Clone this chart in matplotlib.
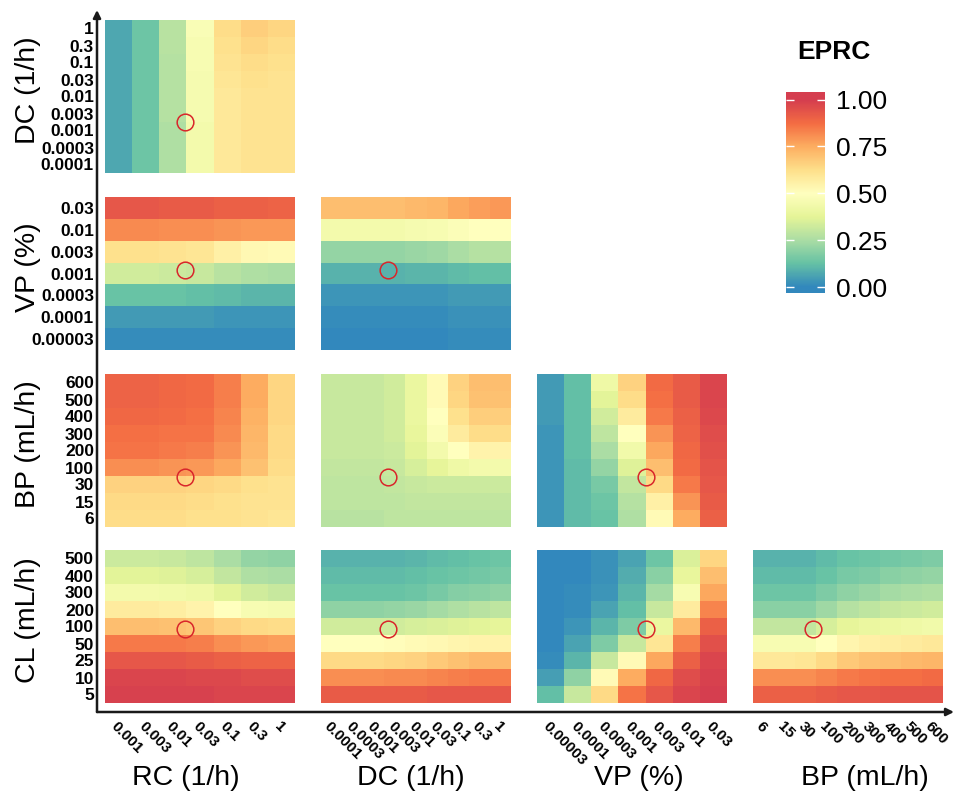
import matplotlib.pyplot as plt
from matplotlib.colors import LinearSegmentedColormap
from matplotlib.patches import FancyArrowPatch
import numpy as np

plt.rcParams['font.family'] = ['Liberation Sans', 'DejaVu Sans']

# parameter levels (bottom/left to top/right)
RC = ['0.001', '0.003', '0.01', '0.03', '0.1', '0.3', '1']
DC = ['0.0001', '0.0003', '0.001', '0.003', '0.01', '0.03', '0.1', '0.3', '1']
VP = ['0.00003', '0.0001', '0.0003', '0.001', '0.003', '0.01', '0.03']
BP = ['6', '15', '30', '100', '200', '300', '400', '500', '600']
CL = ['5', '10', '25', '50', '100', '200', '300', '400', '500']

# EPRC grids: rows listed from the TOP level down, columns left to right
DC_RC = [
    [0.07, 0.14, 0.28, 0.47, 0.63, 0.67, 0.65],
    [0.07, 0.14, 0.28, 0.46, 0.62, 0.65, 0.63],
    [0.07, 0.14, 0.27, 0.46, 0.61, 0.63, 0.62],
    [0.07, 0.14, 0.27, 0.45, 0.60, 0.62, 0.61],
    [0.07, 0.14, 0.27, 0.45, 0.59, 0.61, 0.61],
    [0.07, 0.14, 0.27, 0.45, 0.59, 0.61, 0.61],
    [0.07, 0.14, 0.26, 0.44, 0.59, 0.61, 0.61],
    [0.07, 0.14, 0.26, 0.44, 0.59, 0.61, 0.61],
    [0.07, 0.14, 0.26, 0.44, 0.59, 0.61, 0.61],
]
VP_RC = [
    [0.93, 0.93, 0.92, 0.92, 0.91, 0.91, 0.90],
    [0.82, 0.82, 0.81, 0.81, 0.80, 0.79, 0.79],
    [0.62, 0.62, 0.61, 0.60, 0.56, 0.53, 0.52],
    [0.33, 0.33, 0.32, 0.31, 0.28, 0.26, 0.25],
    [0.13, 0.13, 0.13, 0.12, 0.11, 0.10, 0.10],
    [0.04, 0.04, 0.04, 0.04, 0.03, 0.03, 0.03],
    [0.01, 0.01, 0.01, 0.01, 0.01, 0.01, 0.01],
]
VP_DC = [
    [0.71, 0.71, 0.71, 0.71, 0.72, 0.73, 0.76, 0.78, 0.79],
    [0.44, 0.44, 0.44, 0.44, 0.45, 0.46, 0.48, 0.50, 0.50],
    [0.21, 0.21, 0.21, 0.21, 0.22, 0.23, 0.25, 0.27, 0.27],
    [0.09, 0.09, 0.09, 0.09, 0.10, 0.10, 0.11, 0.12, 0.12],
    [0.03, 0.03, 0.03, 0.03, 0.03, 0.03, 0.04, 0.04, 0.04],
    [0.01, 0.01, 0.01, 0.01, 0.01, 0.01, 0.02, 0.02, 0.02],
    [0.00, 0.00, 0.00, 0.00, 0.00, 0.00, 0.01, 0.01, 0.01],
]
BP_RC = [
    [0.90, 0.90, 0.89, 0.88, 0.84, 0.75, 0.65],
    [0.90, 0.90, 0.89, 0.88, 0.84, 0.75, 0.65],
    [0.89, 0.89, 0.88, 0.87, 0.83, 0.74, 0.65],
    [0.87, 0.87, 0.86, 0.86, 0.82, 0.73, 0.64],
    [0.86, 0.86, 0.85, 0.84, 0.80, 0.72, 0.64],
    [0.81, 0.81, 0.80, 0.79, 0.76, 0.70, 0.63],
    [0.66, 0.66, 0.66, 0.65, 0.64, 0.62, 0.61],
    [0.64, 0.64, 0.64, 0.63, 0.62, 0.61, 0.61],
    [0.63, 0.63, 0.63, 0.62, 0.62, 0.61, 0.60],
]
BP_DC = [
    [0.31, 0.31, 0.31, 0.33, 0.40, 0.52, 0.66, 0.71, 0.71],
    [0.31, 0.31, 0.31, 0.33, 0.40, 0.52, 0.65, 0.70, 0.70],
    [0.31, 0.31, 0.31, 0.33, 0.40, 0.50, 0.62, 0.67, 0.67],
    [0.31, 0.31, 0.31, 0.33, 0.39, 0.48, 0.58, 0.63, 0.63],
    [0.31, 0.31, 0.31, 0.32, 0.37, 0.44, 0.50, 0.55, 0.55],
    [0.30, 0.30, 0.30, 0.31, 0.34, 0.38, 0.42, 0.44, 0.44],
    [0.29, 0.29, 0.29, 0.30, 0.31, 0.32, 0.32, 0.32, 0.32],
    [0.29, 0.29, 0.29, 0.29, 0.30, 0.30, 0.30, 0.30, 0.30],
    [0.28, 0.28, 0.28, 0.29, 0.29, 0.29, 0.29, 0.29, 0.29],
]
BP_VP = [
    [0.04, 0.12, 0.42, 0.66, 0.88, 0.92, 0.98],
    [0.04, 0.12, 0.37, 0.63, 0.87, 0.92, 0.98],
    [0.04, 0.12, 0.33, 0.58, 0.85, 0.91, 0.97],
    [0.03, 0.12, 0.29, 0.50, 0.80, 0.90, 0.96],
    [0.03, 0.12, 0.25, 0.43, 0.76, 0.89, 0.95],
    [0.03, 0.11, 0.21, 0.36, 0.71, 0.88, 0.94],
    [0.03, 0.11, 0.16, 0.30, 0.64, 0.85, 0.93],
    [0.03, 0.11, 0.14, 0.27, 0.56, 0.80, 0.92],
    [0.03, 0.11, 0.13, 0.26, 0.52, 0.75, 0.91],
]
CL_RC = [
    [0.32, 0.32, 0.31, 0.29, 0.25, 0.21, 0.20],
    [0.37, 0.37, 0.36, 0.34, 0.30, 0.26, 0.25],
    [0.44, 0.44, 0.43, 0.42, 0.37, 0.33, 0.31],
    [0.58, 0.58, 0.57, 0.55, 0.50, 0.46, 0.45],
    [0.71, 0.71, 0.70, 0.69, 0.66, 0.64, 0.63],
    [0.85, 0.85, 0.85, 0.84, 0.81, 0.79, 0.78],
    [0.93, 0.93, 0.93, 0.92, 0.91, 0.90, 0.90],
    [0.98, 0.98, 0.98, 0.97, 0.97, 0.96, 0.96],
    [0.99, 0.99, 0.99, 0.99, 0.98, 0.98, 0.98],
]
CL_DC = [
    [0.09, 0.09, 0.09, 0.09, 0.10, 0.11, 0.12, 0.13, 0.14],
    [0.11, 0.11, 0.11, 0.11, 0.12, 0.13, 0.14, 0.15, 0.16],
    [0.13, 0.13, 0.13, 0.13, 0.14, 0.16, 0.18, 0.19, 0.20],
    [0.20, 0.20, 0.20, 0.21, 0.22, 0.24, 0.26, 0.28, 0.29],
    [0.33, 0.33, 0.33, 0.33, 0.34, 0.35, 0.36, 0.37, 0.38],
    [0.50, 0.50, 0.50, 0.51, 0.52, 0.53, 0.54, 0.55, 0.55],
    [0.64, 0.64, 0.64, 0.65, 0.66, 0.68, 0.70, 0.72, 0.72],
    [0.81, 0.81, 0.81, 0.82, 0.82, 0.83, 0.84, 0.85, 0.85],
    [0.92, 0.92, 0.92, 0.92, 0.92, 0.93, 0.93, 0.93, 0.93],
]
CL_VP = [
    [0.00, 0.00, 0.02, 0.06, 0.14, 0.35, 0.65],
    [0.00, 0.00, 0.02, 0.08, 0.19, 0.39, 0.71],
    [0.00, 0.01, 0.03, 0.10, 0.24, 0.46, 0.76],
    [0.00, 0.01, 0.06, 0.12, 0.31, 0.58, 0.83],
    [0.00, 0.03, 0.10, 0.17, 0.40, 0.72, 0.91],
    [0.00, 0.06, 0.17, 0.31, 0.60, 0.84, 0.95],
    [0.01, 0.10, 0.31, 0.52, 0.76, 0.91, 0.98],
    [0.05, 0.20, 0.52, 0.75, 0.89, 0.96, 0.99],
    [0.12, 0.31, 0.64, 0.86, 0.93, 0.98, 1.00],
]
CL_BP = [
    [0.09, 0.09, 0.09, 0.11, 0.13, 0.14, 0.15, 0.16, 0.17],
    [0.11, 0.11, 0.11, 0.13, 0.16, 0.17, 0.19, 0.20, 0.21],
    [0.14, 0.14, 0.14, 0.17, 0.20, 0.22, 0.24, 0.25, 0.26],
    [0.19, 0.19, 0.19, 0.23, 0.27, 0.29, 0.31, 0.32, 0.33],
    [0.30, 0.30, 0.30, 0.34, 0.38, 0.40, 0.41, 0.42, 0.43],
    [0.46, 0.46, 0.46, 0.50, 0.54, 0.56, 0.57, 0.58, 0.59],
    [0.59, 0.59, 0.60, 0.64, 0.68, 0.70, 0.71, 0.72, 0.73],
    [0.81, 0.81, 0.81, 0.83, 0.85, 0.86, 0.87, 0.87, 0.88],
    [0.91, 0.91, 0.91, 0.92, 0.93, 0.93, 0.94, 0.94, 0.94],
]

# base case location (in level-index units) marked by red circles
BASE_X = {'RC': 2.45, 'DC': 2.65, 'VP': 3.5, 'BP': 2.35}
BASE_Y = {'DC': 2.5, 'VP': 3.15, 'BP': 2.45, 'CL': 3.85}

levels = {'RC': RC, 'DC': DC, 'VP': VP, 'BP': BP, 'CL': CL}
titles = {'RC': 'RC (1/h)', 'DC': 'DC (1/h)', 'VP': 'VP (%)',
          'BP': 'BP (mL/h)', 'CL': 'CL (mL/h)'}
col_params = ['RC', 'DC', 'VP', 'BP']
row_params = ['DC', 'VP', 'BP', 'CL']
grids = {('DC', 'RC'): DC_RC, ('VP', 'RC'): VP_RC, ('VP', 'DC'): VP_DC,
         ('BP', 'RC'): BP_RC, ('BP', 'DC'): BP_DC, ('BP', 'VP'): BP_VP,
         ('CL', 'RC'): CL_RC, ('CL', 'DC'): CL_DC, ('CL', 'VP'): CL_VP,
         ('CL', 'BP'): CL_BP}

spectral = ['#3288bd', '#66c2a5', '#abdda4', '#e6f598', '#ffffbf',
            '#fee08b', '#fdae61', '#f46d43', '#d53e4f']
cmap = LinearSegmentedColormap.from_list('spec', spectral)

W, H = 955, 798
fig = plt.figure(figsize=(W / 100, H / 100), dpi=100)


def px(x, y, w, h):
    return [x / W, 1 - (y + h) / H, w / W, h / H]


col_x = [105, 321, 537, 753]
row_y = [20, 197, 374, 550]
pw, ph = 190, 153

for r, rp in enumerate(row_params):
    for c, cp in enumerate(col_params):
        if c > r:
            continue
        z = np.array(grids[(rp, cp)])[::-1]
        ny, nx = z.shape
        ax = fig.add_axes(px(col_x[c], row_y[r], pw, ph))
        ax.pcolormesh(np.arange(nx + 1) - 0.5, np.arange(ny + 1) - 0.5, z,
                      cmap=cmap, vmin=0, vmax=1, shading='flat')
        ax.plot(BASE_X[cp], BASE_Y[rp], marker='o', ms=12, mfc='none',
                mec='#d9262b', mew=1.1)
        ax.set_xlim(-0.5, nx - 0.5)
        ax.set_ylim(-0.5, ny - 0.5)
        for s in ax.spines.values():
            s.set_visible(False)
        ax.tick_params(length=0)
        if c == 0:
            ax.set_yticks(range(ny))
            ax.set_yticklabels(levels[rp], fontsize=12.5, fontweight='bold')
            ax.tick_params(axis='y', pad=8)
        else:
            ax.set_yticks([])
        if r == 3:
            ax.set_xticks(range(nx))
            ax.set_xticklabels(levels[cp], fontsize=11, fontweight='bold',
                               rotation=-45, ha='left', va='top',
                               rotation_mode='anchor')
            ax.tick_params(axis='x', pad=12)
        else:
            ax.set_xticks([])

# axis titles
for r, rp in enumerate(row_params):
    fig.text(28 / W, 1 - (row_y[r] + ph / 2 - 6) / H, titles[rp], rotation=90,
             ha='center', va='center', fontsize=20.5)
title_x = [186, 411, 639, 865]
for c, cp in enumerate(col_params):
    fig.text(title_x[c] / W, 1 - 778 / H, titles[cp], ha='center',
             va='center', fontsize=20.5)

# L-shaped axis arrows
ox, oy = 97 / W, 1 - 712 / H
fig.add_artist(FancyArrowPatch((ox, oy), (ox, 1 - 10 / H), transform=fig.transFigure,
                               arrowstyle='-|>', mutation_scale=11, lw=1.8,
                               color='#1a1a1a', shrinkA=0, shrinkB=0))
fig.add_artist(FancyArrowPatch((ox, oy), (954 / W, oy), transform=fig.transFigure,
                               arrowstyle='-|>', mutation_scale=11, lw=1.8,
                               color='#1a1a1a', shrinkA=0, shrinkB=0))

# colour bar
cax = fig.add_axes(px(786, 92, 39, 201))
lo, hi = -0.03, 1.04
grad = np.clip(np.linspace(lo, hi, 300), 0, 1).reshape(-1, 1)
cax.imshow(grad, cmap=cmap, vmin=0, vmax=1, aspect='auto', origin='lower',
           extent=[0, 1, lo, hi])
cax.set_xlim(0, 1)
cax.set_ylim(lo, hi)
cax.set_xticks([])
ticks = [0, 0.25, 0.5, 0.75, 1.0]
cax.set_yticks(ticks)
cax.set_yticklabels(['%.2f' % t for t in ticks], fontsize=19)
cax.yaxis.tick_right()
cax.tick_params(axis='y', direction='in', length=6, width=1, color='white',
                left=True, right=True, labelleft=False, labelright=True, pad=8)
for s in cax.spines.values():
    s.set_visible(False)
fig.text(834 / W, 1 - 52 / H, 'EPRC', ha='center', va='center',
         fontsize=19, fontweight='bold')

fig.savefig('out.png', dpi=100)
